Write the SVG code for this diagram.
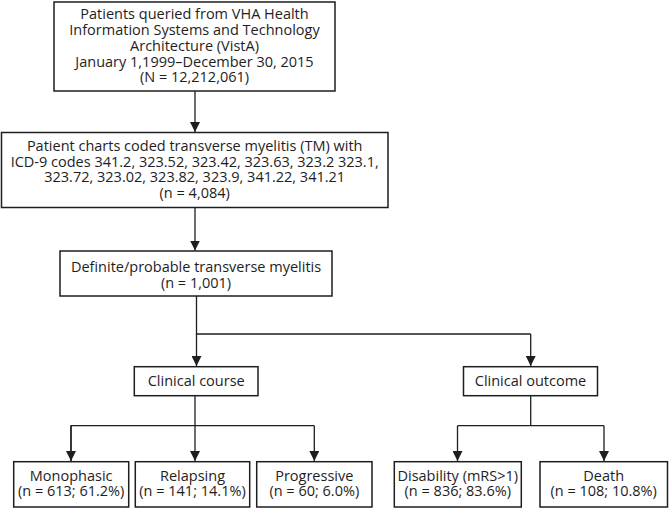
<svg xmlns="http://www.w3.org/2000/svg" width="669" height="509" viewBox="0 0 669 509">
  <style>
    .box { fill: #ffffff; stroke: #1e1e1e; stroke-width: 1.5; }
    .lbl { font-family: "Open Sans", "Noto Sans", "Liberation Sans", sans-serif; font-size: 14.5px; fill: #1e1e1e; text-anchor: middle; }
    .conn { fill: none; stroke: #1e1e1e; stroke-width: 1.3; }
    .arr { marker-end: url(#ah); }
  </style>
  <defs>
    <marker id="ah" markerUnits="userSpaceOnUse" markerWidth="10" markerHeight="10" refX="10" refY="5" orient="auto">
      <path d="M0,0 L10,5 L0,10 z" fill="#1e1e1e"/>
    </marker>
  </defs>
  <rect width="669" height="509" fill="#ffffff"/>

  <g id="connectors">
    <line class="conn arr" x1="195" y1="91" x2="195" y2="132"/>
    <line class="conn arr" x1="195" y1="208" x2="195" y2="250.5"/>
    <polyline class="conn" points="196.5,296 196.5,334 530.7,334"/>
    <line class="conn arr" x1="196.5" y1="334" x2="196.5" y2="366"/>
    <line class="conn arr" x1="530.7" y1="334" x2="530.7" y2="366"/>
    <line class="conn arr" x1="195" y1="396" x2="195" y2="461"/>
    <polyline class="conn" points="71,461 71,425.7 314.3,425.7"/>
    <line class="conn arr" x1="71" y1="425.7" x2="71" y2="461"/>
    <line class="conn arr" x1="314.3" y1="425.7" x2="314.3" y2="461"/>
    <polyline class="conn" points="530.7,396 530.7,425.7"/>
    <line class="conn" x1="457.5" y1="425.7" x2="604" y2="425.7"/>
    <line class="conn arr" x1="457.5" y1="425.7" x2="457.5" y2="461"/>
    <line class="conn arr" x1="604" y1="425.7" x2="604" y2="461"/>
  </g>

  <g id="n1">
    <rect class="box" x="54" y="2" width="281" height="89"/>
    <text class="lbl" x="194.5" y="19.3">Patients queried from VHA Health</text>
    <text class="lbl" x="194.5" y="35.1">Information Systems and Technology</text>
    <text class="lbl" x="194.5" y="50.8">Architecture (VistA)</text>
    <text class="lbl" x="194.5" y="66.5">January 1,1999–December 30, 2015</text>
    <text class="lbl" x="194.5" y="82.2">(N = 12,212,061)</text>
  </g>

  <g id="n2">
    <rect class="box" x="1.5" y="132.5" width="386.5" height="75"/>
    <text class="lbl" x="194.7" y="151">Patient charts coded transverse myelitis (TM) with</text>
    <text class="lbl" x="194.7" y="166.7">ICD-9 codes 341.2, 323.52, 323.42, 323.63, 323.2 323.1,</text>
    <text class="lbl" x="194.7" y="182.4">323.72, 323.02, 323.82, 323.9, 341.22, 341.21</text>
    <text class="lbl" x="194.7" y="198.1">(n = 4,084)</text>
  </g>

  <g id="n3">
    <rect class="box" x="60" y="251" width="272" height="45"/>
    <text class="lbl" x="196" y="272.2">Definite/probable transverse myelitis</text>
    <text class="lbl" x="196" y="287.9">(n = 1,001)</text>
  </g>

  <g id="n4">
    <rect class="box" x="134.3" y="366.7" width="123.7" height="29"/>
    <text class="lbl" x="196.2" y="385.7">Clinical course</text>
  </g>

  <g id="n5">
    <rect class="box" x="463.5" y="366.7" width="134" height="29"/>
    <text class="lbl" x="530.5" y="385.7">Clinical outcome</text>
  </g>

  <g id="n6">
    <rect class="box" x="13.7" y="461.7" width="115" height="45.3"/>
    <text class="lbl" x="71.2" y="480.7">Monophasic</text>
    <text class="lbl" x="71.2" y="496">(n = 613; 61.2%)</text>
  </g>

  <g id="n7">
    <rect class="box" x="135.3" y="461.7" width="114.4" height="45.3"/>
    <text class="lbl" x="192.5" y="480.7">Relapsing</text>
    <text class="lbl" x="192.5" y="496">(n = 141; 14.1%)</text>
  </g>

  <g id="n8">
    <rect class="box" x="256.7" y="461.7" width="115.3" height="45.3"/>
    <text class="lbl" x="314.3" y="480.7">Progressive</text>
    <text class="lbl" x="314.3" y="496">(n = 60; 6.0%)</text>
  </g>

  <g id="n9">
    <rect class="box" x="394.3" y="461.7" width="127" height="45.3"/>
    <text class="lbl" x="457.8" y="480.7">Disability (mRS&gt;1)</text>
    <text class="lbl" x="457.8" y="496">(n = 836; 83.6%)</text>
  </g>

  <g id="n10">
    <rect class="box" x="540" y="461.7" width="127.5" height="45.3"/>
    <text class="lbl" x="603.7" y="480.7">Death</text>
    <text class="lbl" x="603.7" y="496">(n = 108; 10.8%)</text>
  </g>
</svg>
